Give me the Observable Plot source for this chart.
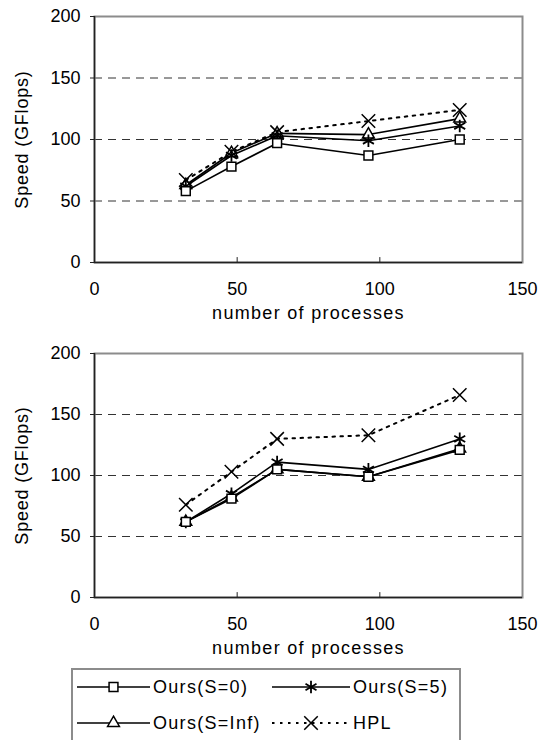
<!DOCTYPE html>
<html><head><meta charset="utf-8">
<script src="https://cdn.jsdelivr.net/npm/d3@7"></script>
<script src="https://cdn.jsdelivr.net/npm/@observablehq/plot@0.6"></script>
<style>
body{margin:0;background:#fff;font-family:"Liberation Sans",Arial,sans-serif;}
#wrap{position:relative;width:542px;height:740px;overflow:hidden;background:#fff}
#wrap svg{display:block}
</style></head><body><div id="wrap"></div>
<script>
// ---- data ----
const procs = [32, 48, 64, 96, 128];
const seriesNames = ["Ours(S=0)", "Ours(S=5)", "Ours(S=Inf)", "HPL"];
const seriesSymbols = ["square", "asterisk", "triangle", "times"];
// top chart
const topS0   = [58, 78, 97, 87, 100];
const topS5   = [62, 87, 103, 99, 111];
const topSInf = [63, 89, 105, 104, 117];
const topHPL  = [67, 90, 106, 115, 124];
// bottom chart
const botS0   = [62, 81, 105, 99, 121];
const botS5   = [62, 85, 111, 105, 130];
const botSInf = [62, 82, 105, 99, 122];
const botHPL  = [76, 103, 130, 133, 166];
const xTicks = [0, 50, 100, 150];
const yTicks = [0, 50, 100, 150, 200];
const gridTicks = [50, 100, 150];
const xLabel = "number of processes";
const yLabel = "Speed (GFlops)";

// drawing order: S=Inf, S=5, S=0, HPL (squares above triangles)
const drawOrder = [2, 1, 0, 3];
function table(arrs) {
  const rows = [];
  drawOrder.forEach(i => arrs[i].forEach((v, j) => rows.push({series: seriesNames[i], p: procs[j], v})));
  return rows;
}

const FONT = '"Liberation Sans", Arial, sans-serif';
const symR = {"Ours(S=0)": 5, "Ours(S=5)": 6, "Ours(S=Inf)": 4.4, "HPL": 6.2};

function chart(rows, height, marginTop, marginBottom) {
  const solid = rows.filter(d => d.series !== "HPL");
  const dotted = rows.filter(d => d.series === "HPL");
  const dotMarks = drawOrder.map(i => seriesNames[i]).map(name => Plot.dot(rows.filter(d => d.series === name), {
    x: "p", y: "v", symbol: "series", r: symR[name], stroke: "#000",
    fill: (name === "Ours(S=0)" || name === "Ours(S=Inf)") ? "white" : "none",
    strokeWidth: name === "Ours(S=5)" ? 1.8 : 1.5
  }));
  return Plot.plot({
    width: 542, height, marginLeft: 94, marginRight: 20, marginTop, marginBottom,
    style: {fontFamily: FONT, fontSize: "18px", background: "white", color: "#000"},
    x: {domain: [0, 150]},
    y: {domain: [0, 200]},
    symbol: {domain: seriesNames, range: seriesSymbols},
    marks: [
      Plot.ruleY(gridTicks, {stroke: "#333", strokeWidth: 1, strokeDasharray: "8,6"}),
      Plot.frame({stroke: "#8c8c8c", strokeWidth: 2}),
      Plot.ruleX([0], {stroke: "#222", strokeWidth: 1.5}),
      Plot.ruleY([0], {stroke: "#222", strokeWidth: 1.5}),
      Plot.ruleX(xTicks.slice(1, -1), {y1: 0, y2: 4, stroke: "#222", strokeWidth: 1}),
      Plot.axisX(xTicks, {tickSize: 0, tickPadding: 20, label: null, fontSize: 18}),
      Plot.axisY(yTicks, {tickSize: 4, tickPadding: 10, label: null, fontSize: 18, stroke: "#222"}),
      Plot.text([yLabel], {text: d => d, frameAnchor: "left", textAnchor: "middle", dx: -72, rotate: -90, fontSize: 18}),
      Plot.text([xLabel], {text: d => d, frameAnchor: "bottom", textAnchor: "middle", dy: 56, fontSize: 18}),
      Plot.line(solid, {x: "p", y: "v", z: "series", stroke: "#000", strokeWidth: 1.6}),
      Plot.line(dotted, {x: "p", y: "v", stroke: "#000", strokeWidth: 2, strokeDasharray: "2.5,5.5"}),
      ...dotMarks
    ]
  });
}

const wrap = document.getElementById("wrap");
const c1 = chart(table([topS0, topS5, topSInf, topHPL]), 330, 16, 68);
const c2 = chart(table([botS0, botS5, botSInf, botHPL]), 335, 23, 68);
[c1, c2].forEach(c => c.querySelectorAll("text").forEach(t => {
  if (t.textContent === xLabel) t.style.letterSpacing = "1.3px";
  if (t.textContent === yLabel) t.style.letterSpacing = "0.8px";
}));
wrap.appendChild(c1);
wrap.appendChild(c2);

// ---- legend ----
const lg = d3.select(wrap).append("svg")
  .attr("width", 542).attr("height", 75)
  .style("position", "absolute").style("left", "0px").style("top", "665px")
  .style("font-family", FONT).style("font-size", "18px");
lg.append("rect").attr("x", 72).attr("y", 4).attr("width", 388).attr("height", 90)
  .attr("fill", "white").attr("stroke", "#8c8c8c").attr("stroke-width", 2);
const symMap = {square: d3.symbolSquare, asterisk: d3.symbolAsterisk, triangle: d3.symbolTriangle, times: d3.symbolTimes};
const entries = seriesNames.map((name, i) => ({
  name, sym: seriesSymbols[i],
  x0: i % 2 === 0 ? 77 : 272, x1: i % 2 === 0 ? 150 : 350,
  tx: i % 2 === 0 ? 153 : 353, y: i < 2 ? 22 : 58
}));
entries.forEach(e => {
  const g = lg.append("g");
  g.append("line").attr("x1", e.x0).attr("x2", e.x1).attr("y1", e.y).attr("y2", e.y)
    .attr("stroke", "#000").attr("stroke-width", e.name === "HPL" ? 2 : 1.6)
    .attr("stroke-dasharray", e.name === "HPL" ? "2.5,5.5" : null);
  const r = symR[e.name];
  g.append("path").attr("d", d3.symbol(symMap[e.sym], Math.PI * r * r)())
    .attr("transform", `translate(${(e.x0 + e.x1) / 2},${e.y})`)
    .attr("fill", "white").attr("stroke", "#000").attr("stroke-width", e.name === "Ours(S=5)" ? 1.8 : 1.5);
  g.append("text").attr("x", e.tx).attr("y", e.y).attr("dy", "0.35em")
    .style("letter-spacing", "1.3px").text(e.name);
});
</script>
</body></html>
